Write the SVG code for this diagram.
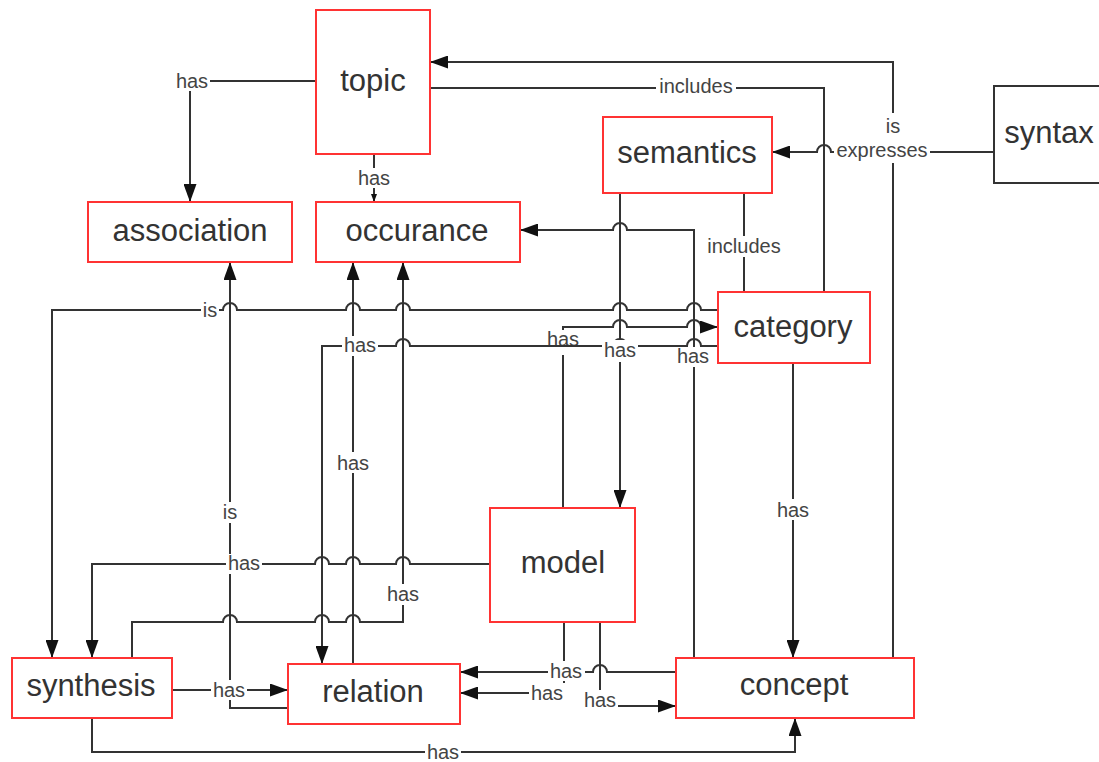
<svg xmlns="http://www.w3.org/2000/svg" width="1099" height="762" viewBox="0 0 1099 762">
<style>
.n rect{fill:#fff;stroke:#f33;stroke-width:2}
.n text{font-family:"Liberation Sans",Arial,sans-serif;font-size:31px;fill:#333;text-anchor:middle}
#syntax rect{stroke:#333}
.c path{fill:none;stroke:#333;stroke-width:2}
.l rect{fill:#fff}
.l text{font-family:"Liberation Sans",Arial,sans-serif;font-size:20px;fill:#444;text-anchor:middle}
</style>
<defs>
<marker id="a" markerUnits="userSpaceOnUse" markerWidth="18" markerHeight="13" refX="18" refY="6.5" orient="auto"><path d="M0,0 L18,6.5 L0,13 z" fill="#111"/></marker>
<marker id="s" markerUnits="userSpaceOnUse" markerWidth="8" markerHeight="6" refX="8" refY="3" orient="auto"><path d="M0,0 L8,3 L0,6 z" fill="#111"/></marker>
</defs>
<rect width="1099" height="762" fill="#fff"/>
<g class="c" id="connectors">
<path d="M316,81 H190 V202" marker-end="url(#a)"/>
<path d="M374,154 V202" marker-end="url(#s)"/>
<path d="M893,658 V62 H430" marker-end="url(#a)"/>
<path d="M824,292 V88 H430"/>
<path d="M994,152 H831 A7,7 0 0 0 817,152 H772" marker-end="url(#a)"/>
<path d="M744,193 V292"/>
<path d="M620,193 V508" marker-end="url(#a)"/>
<path d="M694,658 V230 H627 A7,7 0 0 0 613,230 H520" marker-end="url(#a)"/>
<path d="M793,363 V658" marker-end="url(#a)"/>
<path d="M718,310 H701 A7,7 0 0 0 687,310 H627 A7,7 0 0 0 613,310 H410 A7,7 0 0 0 396,310 H360 A7,7 0 0 0 346,310 H237 A7,7 0 0 0 223,310 H52 V658" marker-end="url(#a)"/>
<path d="M563,508 V327 H613 A7,7 0 0 1 627,327 H687 A7,7 0 0 1 701,327 H718" marker-end="url(#a)"/>
<g class="l"><rect x="545" y="330" width="36" height="25"/><text x="563" y="346">has</text></g>
<path d="M718,346 H701 A7,7 0 0 0 687,346 H627 A7,7 0 0 0 613,346 H410 A7,7 0 0 0 396,346 H322 V664" marker-end="url(#a)"/>
<path d="M288,708 H230 V262" marker-end="url(#a)"/>
<path d="M353,664 V262" marker-end="url(#a)"/>
<path d="M132,658 V622 H223 A7,7 0 0 1 237,622 H315 A7,7 0 0 1 329,622 H346 A7,7 0 0 1 360,622 H403 V262" marker-end="url(#a)"/>
<path d="M490,564 H410 A7,7 0 0 0 396,564 H360 A7,7 0 0 0 346,564 H329 A7,7 0 0 0 315,564 H92 V658" marker-end="url(#a)"/>
<path d="M172,690 H288" marker-end="url(#a)"/>
<path d="M92,718 V752 H795 V718" marker-end="url(#a)"/>
<path d="M676,672 H607 A7,7 0 0 0 593,672 H460" marker-end="url(#a)"/>
<path d="M564,622 V693 H460" marker-end="url(#a)"/>
<path d="M600,622 V706 H676" marker-end="url(#a)"/>
</g>
<g class="l" id="labels">
<rect x="174" y="71" width="36" height="20"/><text x="192" y="88">has</text>
<rect x="356" y="168" width="36" height="20"/><text x="374" y="185">has</text>
<rect x="656" y="77" width="80" height="20"/><text x="696" y="93">includes</text>
<rect x="882" y="113" width="24" height="28"/><text x="893" y="133">is</text>
<rect x="834" y="140" width="96" height="23"/><text x="882" y="157">expresses</text>
<rect x="703" y="236" width="82" height="21"/><text x="744" y="253">includes</text>
<rect x="602" y="340" width="36" height="22"/><text x="620" y="357">has</text>
<rect x="675" y="347" width="36" height="20"/><text x="693" y="363">has</text>
<rect x="775" y="499" width="36" height="21"/><text x="793" y="517">has</text>
<rect x="201" y="300" width="18" height="20"/><text x="210" y="317">is</text>
<rect x="342" y="336" width="36" height="20"/><text x="360" y="352">has</text>
<rect x="335" y="452" width="36" height="21"/><text x="353" y="470">has</text>
<rect x="221" y="502" width="18" height="21"/><text x="230" y="519">is</text>
<rect x="226" y="554" width="36" height="20"/><text x="244" y="570">has</text>
<rect x="385" y="584" width="36" height="21"/><text x="403" y="601">has</text>
<rect x="211" y="680" width="36" height="20"/><text x="229" y="697">has</text>
<rect x="425" y="743" width="36" height="20"/><text x="443" y="759">has</text>
<rect x="529" y="683" width="36" height="20"/><text x="547" y="700">has</text>
<rect x="548" y="661" width="37" height="20"/><text x="566" y="678">has</text>
<rect x="582" y="690" width="36" height="20"/><text x="600" y="707">has</text>
</g>
<g class="n" id="topic"><rect x="316" y="10" width="114" height="144"/><text x="373" y="91">topic</text></g>
<g class="n" id="association"><rect x="88" y="202" width="204" height="60"/><text x="190" y="241">association</text></g>
<g class="n" id="occurance"><rect x="316" y="202" width="204" height="60"/><text x="417" y="241">occurance</text></g>
<g class="n" id="semantics"><rect x="603" y="117" width="169" height="76"/><text x="687" y="163">semantics</text></g>
<g class="n" id="syntax"><rect x="994" y="86" width="120" height="97"/><text x="1049" y="143">syntax</text></g>
<g class="n" id="category"><rect x="718" y="292" width="152" height="71"/><text x="793" y="337">category</text></g>
<g class="n" id="model"><rect x="490" y="508" width="145" height="114"/><text x="563" y="573">model</text></g>
<g class="n" id="synthesis"><rect x="12" y="658" width="160" height="60"/><text x="91" y="696">synthesis</text></g>
<g class="n" id="relation"><rect x="288" y="664" width="172" height="60"/><text x="373" y="702">relation</text></g>
<g class="n" id="concept"><rect x="676" y="658" width="238" height="60"/><text x="794" y="695">concept</text></g>
</svg>
